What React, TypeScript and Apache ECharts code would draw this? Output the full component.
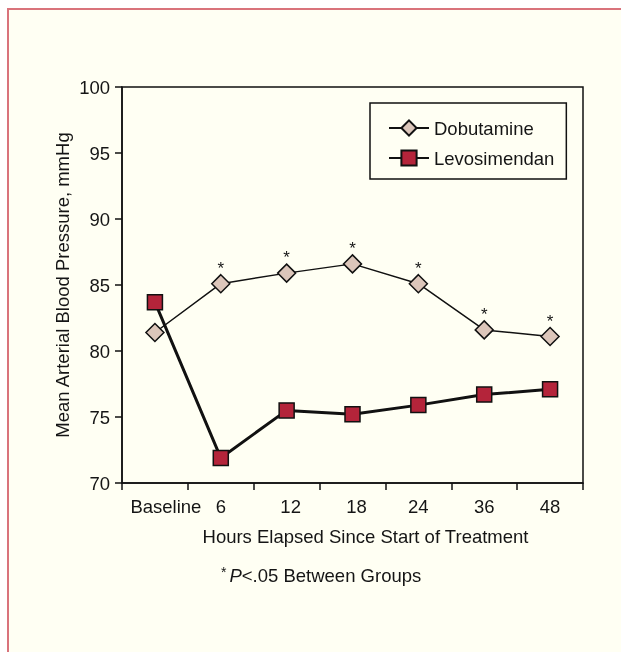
import React, { useEffect, useRef } from "react";
import * as echarts from "echarts";

const categories = ["Baseline", "6", "12", "18", "24", "36", "48"];
const dobutamine = [81.4, 85.1, 85.9, 86.6, 85.1, 81.6, 81.1];
const levosimendan = [83.7, 71.9, 75.5, 75.2, 75.9, 76.7, 77.1];
const significant = [false, true, true, true, true, true, true];
const yMin = 70;
const yMax = 100;
const yStep = 5;

const FONT = "'Liberation Sans', Arial, sans-serif";
const FS = 18.5;
const INK = "#151515";
const CREAM = "#FFFFF3";

export default function App() {
  const ref = useRef<HTMLDivElement>(null);
  useEffect(() => {
    if (!ref.current) return;
    const chart = echarts.init(ref.current, undefined, { renderer: "svg" });
    chart.setOption({
      animation: false,
      textStyle: { fontFamily: FONT, color: INK },
      graphic: [
        {
          type: "rect",
          z: -10,
          shape: { x: 8, y: 9, width: 700, height: 700 },
          style: { fill: CREAM, stroke: "#D9737B", lineWidth: 2 },
        },
        {
          type: "text",
          x: 221,
          y: 565,
          style: {
            text: "{a|*}{i|P}{b|<.05 Between Groups}",
            rich: {
              a: { fontFamily: FONT, fontSize: 14, fill: INK, verticalAlign: "top", padding: [0, 3, 6, 0] },
              i: { fontFamily: FONT, fontSize: FS, fontStyle: "italic", fill: INK },
              b: { fontFamily: FONT, fontSize: FS, fill: INK },
            },
          },
        },
      ],
      legend: {
        orient: "vertical",
        left: 370,
        top: 103,
        padding: [15.5, 12, 11.5, 18],
        itemGap: 11,
        itemWidth: 40,
        itemHeight: 19,
        borderColor: "#111",
        borderWidth: 1.5,
        backgroundColor: CREAM,
        textStyle: { fontFamily: FONT, fontSize: FS, color: INK },
        data: ["Dobutamine", "Levosimendan"],
      },
      grid: {
        left: 122,
        top: 87,
        width: 461,
        height: 396,
        show: true,
        borderColor: "#111",
        borderWidth: 1.5,
        backgroundColor: "transparent",
      },
      xAxis: {
        type: "category",
        data: categories,
        boundaryGap: true,
        name: "Hours Elapsed Since Start of Treatment",
        nameLocation: "middle",
        nameGap: 44,
        nameTextStyle: { fontFamily: FONT, fontSize: FS, color: INK, padding: [0, 0, 0, 26] },
        axisLine: { lineStyle: { color: "#111", width: 1.5 } },
        axisTick: { show: true, length: 7, alignWithLabel: false, lineStyle: { color: "#111", width: 1.5 } },
        axisLabel: {
          interval: 0,
          margin: 14,
          fontFamily: FONT,
          fontSize: FS,
          color: INK,
          formatter: (v: string) => (v === "Baseline" ? "{s|" + v + "}" : v === "12" || v === "18" ? "{t|" + v + "}" : v),
          rich: {
            s: { fontFamily: FONT, fontSize: FS, color: INK, padding: [0, 0, 0, 22] },
            t: { fontFamily: FONT, fontSize: FS, color: INK, padding: [0, 0, 0, 8] },
          },
        },
        splitLine: { show: false },
      },
      yAxis: {
        type: "value",
        min: yMin,
        max: yMax,
        interval: yStep,
        name: "Mean Arterial Blood Pressure, mmHg",
        nameLocation: "middle",
        nameMoveOverlap: false,
        nameGap: 50,
        nameTextStyle: { fontFamily: FONT, fontSize: FS, color: INK },
        axisLine: { show: true, lineStyle: { color: "#111", width: 1.5 } },
        axisTick: { show: true, length: 7, lineStyle: { color: "#111", width: 1.5 } },
        axisLabel: { margin: 12, fontFamily: FONT, fontSize: FS, color: INK },
        splitLine: { show: false },
      },
      series: [
        {
          name: "Dobutamine",
          type: "line",
          z: 3,
          data: dobutamine.map((v, i) => ({
            value: v,
            label: {
              show: significant[i],
              position: "top",
              distance: -3,
              formatter: "*",
              fontFamily: FONT,
              fontSize: 17,
              color: INK,
            },
          })),
          symbol: "diamond",
          symbolSize: 18,
          lineStyle: { color: "#111", width: 1.5 },
          itemStyle: { color: "#DCC6BA", borderColor: "#111", borderWidth: 1.5 },
        },
        {
          name: "Levosimendan",
          type: "line",
          z: 4,
          data: levosimendan,
          symbol: "rect",
          symbolSize: 15,
          lineStyle: { color: "#111", width: 3 },
          itemStyle: { color: "#B4243A", borderColor: "#111", borderWidth: 1.5 },
        },
      ],
    });
    return () => chart.dispose();
  }, []);
  return <div ref={ref} style={{ position: "fixed", left: 0, top: 0, width: 621, height: 652 }} />;
}
